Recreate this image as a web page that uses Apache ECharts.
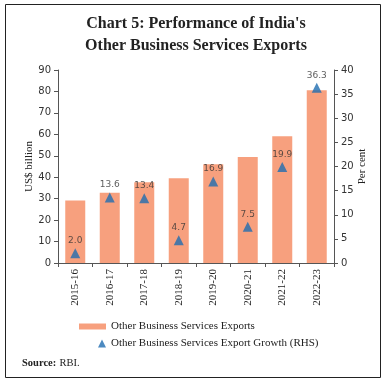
<!DOCTYPE html>
<html><head><meta charset="utf-8">
<script src="https://cdn.jsdelivr.net/npm/echarts@6/dist/echarts.min.js"></script>
<style>html,body{margin:0;padding:0;background:#fff}#c{width:392px;height:388px}</style>
</head><body><div id="c"></div>
<script>
var categories = ['2015-16','2016-17','2017-18','2018-19','2019-20','2020-21','2021-22','2022-23'];
var exportsValues = [29.2, 32.8, 37.6, 39.5, 46.1, 49.4, 59.1, 80.5];
var growthValues = [2.0, 13.6, 13.4, 4.7, 16.9, 7.5, 19.9, 36.3];
var leftTicks = [0, 90, 10];
var rightTicks = [0, 40, 5];

var chart = echarts.init(document.getElementById('c'), null, {renderer: 'canvas'});
var serif = '"Liberation Serif", "DejaVu Serif", serif';
var sans = '"DejaVu Sans", Verdana, sans-serif';
var axisCol = '#555';
chart.setOption({
  animation: false,
  backgroundColor: '#fff',
  graphic: [
    {type: 'rect', shape: {x: 5.5, y: 4.5, width: 375, height: 373}, style: {fill: 'none', stroke: '#222', lineWidth: 1}},
    {type: 'text', left: 'center', top: 13, style: {text: "Chart 5: Performance of India's\nOther Business Services Exports", font: 'bold 16px ' + serif, fill: '#222', textAlign: 'center', lineHeight: 22}},
    {type: 'text', left: 22, top: 357, style: {rich: {b: {fontFamily: serif, fontWeight: 'bold', fontSize: 10.5, fill: '#222'}, n: {fontFamily: serif, fontSize: 10.5, fill: '#222'}}, text: '{b|Source:} {n|RBI.}'}}
  ],
  legend: [
    {left: 74, top: 316, itemWidth: 27, itemHeight: 6, itemGap: 5,
     textStyle: {fontFamily: serif, fontSize: 11, color: '#222'},
     data: [{name: 'Other Business Services Exports', icon: 'rect'}]},
    {left: 93, top: 333, itemWidth: 8, itemHeight: 8,
     textStyle: {fontFamily: serif, fontSize: 11, color: '#222'},
     data: [{name: 'Other Business Services Export Growth (RHS)', icon: 'triangle', itemStyle: {color: '#1F6DB0'}}]}
  ],
  grid: {left: 58, right: 58, top: 70, bottom: 125},
  xAxis: {
    type: 'category', data: categories, boundaryGap: true,
    axisLine: {lineStyle: {color: axisCol}},
    axisTick: {show: true, length: 4, lineStyle: {color: axisCol}},
    axisLabel: {rotate: 90, fontFamily: serif, fontSize: 11, color: '#222', margin: 6}
  },
  yAxis: [
    {type: 'value', min: leftTicks[0], max: leftTicks[1], interval: leftTicks[2], name: 'US$ billion', nameLocation: 'middle', nameGap: 23, nameMoveOverlap: false,
     nameTextStyle: {fontFamily: serif, fontSize: 11, color: '#222'},
     axisLine: {show: true, lineStyle: {color: axisCol}}, axisTick: {show: true, length: 4, lineStyle: {color: axisCol}},
     splitLine: {show: false}, axisLabel: {fontFamily: sans, fontSize: 10, color: '#333', margin: 7}},
    {type: 'value', min: rightTicks[0], max: rightTicks[1], interval: rightTicks[2], name: 'Per cent', nameLocation: 'middle', nameGap: 23, nameRotate: 90, nameMoveOverlap: false,
     nameTextStyle: {fontFamily: serif, fontSize: 11, color: '#222'},
     axisLine: {show: true, lineStyle: {color: axisCol}}, axisTick: {show: true, length: 4, lineStyle: {color: axisCol}},
     splitLine: {show: false}, axisLabel: {fontFamily: sans, fontSize: 10, color: '#333', margin: 7}}
  ],
  series: [
    {name: 'Other Business Services Exports', type: 'bar', data: exportsValues, barWidth: 20, itemStyle: {color: '#F7A07E'}, yAxisIndex: 0},
    {name: 'Other Business Services Export Growth (RHS)', type: 'scatter', data: growthValues, yAxisIndex: 1, symbol: 'triangle', symbolSize: 10,
     itemStyle: {color: '#1F6DB0'},
     label: {show: true, position: 'top', distance: 3, formatter: function(p){return p.value.toFixed(1);}, fontFamily: sans, fontSize: 9, color: '#333'}}
  ]
});
</script></body></html>
